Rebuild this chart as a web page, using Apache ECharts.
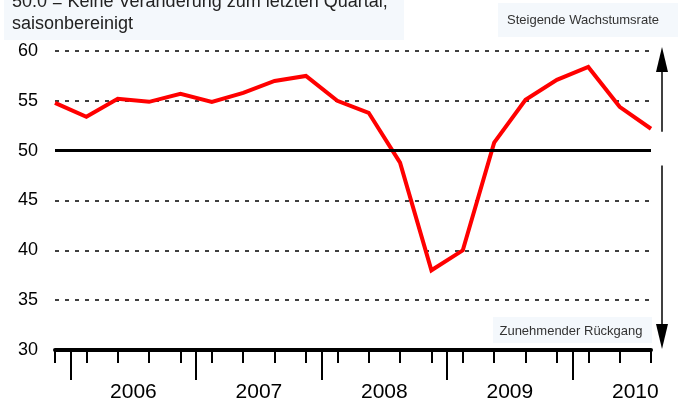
<!DOCTYPE html>
<html>
<head>
<meta charset="utf-8">
<script src="https://cdn.jsdelivr.net/npm/echarts@6/dist/echarts.min.js"></script>
<style>html,body{margin:0;padding:0;background:#fff}#c{width:678px;height:403px}</style>
</head>
<body>
<div id="c"></div>
<script>
// Quarterly PMI-style index, 2005 Q4 .. 2010 Q3
var quarters = ['2005 Q4','2006 Q1','2006 Q2','2006 Q3','2006 Q4','2007 Q1','2007 Q2','2007 Q3','2007 Q4','2008 Q1','2008 Q2','2008 Q3','2008 Q4','2009 Q1','2009 Q2','2009 Q3','2009 Q4','2010 Q1','2010 Q2','2010 Q3'];
var values = [54.8, 53.4, 55.2, 54.9, 55.7, 54.9, 55.8, 57.0, 57.5, 55.0, 53.8, 48.8, 38.0, 40.0, 50.8, 55.1, 57.1, 58.4, 54.4, 52.2];
var yearLabels = ['2006', '2007', '2008', '2009', '2010'];
var yearStartIndex = [1, 5, 9, 13, 17];           // first quarter of each year in `quarters`
var yTicks = [30, 35, 40, 45, 50, 55, 60];
var neutralValue = 50;
var titleLines = ['50.0 = Keine Veränderung zum letzten Quartal,', 'saisonbereinigt'];
var upLabel = 'Steigende Wachstumsrate';
var downLabel = 'Zunehmender Rückgang';

var FONT = '"Liberation Sans", Arial, Helvetica, sans-serif';
var seriesData = values.map(function (v, i) { return [i, v]; });
var boundaries = yearStartIndex.map(function (s) { return s - 0.5; });
var yearCenters = yearStartIndex.map(function (s) { return s + 1.5; });

var chart = echarts.init(document.getElementById('c'), null, { renderer: 'canvas' });
var option = {
  backgroundColor: '#ffffff',
  animation: false,
  grid: { left: 55, right: 27, top: 51, bottom: 50, containLabel: false },
  xAxis: [
    {
      type: 'value', min: 0, max: quarters.length - 1, interval: 1,
      axisLine: { show: true, onZero: false, lineStyle: { color: '#000', width: 4 } },
      axisTick: { show: true, length: 13, lineStyle: { color: '#000', width: 2 } },
      axisLabel: { show: false },
      splitLine: { show: false }
    },
    {
      type: 'value', min: 0, max: quarters.length - 1, position: 'bottom',
      axisLine: { show: false, onZero: false },
      axisTick: { show: true, length: 30, customValues: boundaries, lineStyle: { color: '#000', width: 2 } },
      axisLabel: {
        show: true, customValues: yearCenters, margin: 32,
        fontFamily: FONT, fontSize: 21, color: '#000',
        formatter: function (v) {
          var i = yearCenters.indexOf(v);
          return i >= 0 ? yearLabels[i] : '';
        }
      },
      splitLine: { show: false }
    }
  ],
  yAxis: {
    type: 'value', min: yTicks[0], max: yTicks[yTicks.length - 1], interval: 5,
    axisLine: { show: false },
    axisTick: { show: false },
    axisLabel: { fontFamily: FONT, fontSize: 18, color: '#000', margin: 17 },
    splitLine: { show: true, lineStyle: { color: '#000', width: 1.5, type: [4, 6] } }
  },
  series: [
    {
      type: 'line', xAxisIndex: 0, data: seriesData,
      symbol: 'none', smooth: false,
      lineStyle: { color: '#ff0000', width: 4, join: 'miter' },
      z: 3,
      markLine: {
        silent: true, symbol: ['none', 'none'], label: { show: false },
        lineStyle: { color: '#000', width: 3, type: 'solid' },
        data: [{ yAxis: neutralValue }],
        z: 4
      }
    }
  ]
};
chart.setOption(option);

function py(v) { return chart.convertToPixel({ yAxisIndex: 0 }, v); }
var ax = 662;
var yTop = py(60.4), yUpShaftEnd = py(51.9), yDownShaftStart = py(48.5), yBottom = py(30.1);
var head = 25, hw = 6;
chart.setOption({
  graphic: [
    { type: 'rect', shape: { x: 4, y: 0, width: 400, height: 40 }, style: { fill: '#f4f8fc' }, z: 0 },
    { type: 'text', x: 12, y: -7, style: { text: titleLines[0], font: '18px ' + FONT, fill: '#222', verticalAlign: 'top' }, z: 1 },
    { type: 'text', x: 12, y: 15, style: { text: titleLines[1], font: '18px ' + FONT, fill: '#222', verticalAlign: 'top' }, z: 1 },

    { type: 'rect', shape: { x: 498, y: 3, width: 180, height: 34 }, style: { fill: '#f4f8fc' }, z: 0 },
    { type: 'text', x: 583, y: 20, style: { text: upLabel, font: '13px ' + FONT, fill: '#333', align: 'center', verticalAlign: 'middle' }, z: 1 },
    { type: 'rect', shape: { x: 493, y: 317, width: 159, height: 26 }, style: { fill: '#f4f8fc' }, z: 0 },
    { type: 'text', x: 571, y: 331, style: { text: downLabel, font: '13px ' + FONT, fill: '#333', align: 'center', verticalAlign: 'middle' }, z: 1 },

    { type: 'line', shape: { x1: ax, y1: yTop + head - 2, x2: ax, y2: yUpShaftEnd }, style: { stroke: '#000', lineWidth: 1.5 }, z: 5 },
    { type: 'polygon', shape: { points: [[ax, yTop], [ax - hw, yTop + head], [ax + hw, yTop + head]] }, style: { fill: '#000' }, z: 5 },
    { type: 'line', shape: { x1: ax, y1: yDownShaftStart, x2: ax, y2: yBottom - head + 2 }, style: { stroke: '#000', lineWidth: 1.5 }, z: 5 },
    { type: 'polygon', shape: { points: [[ax, yBottom], [ax - hw, yBottom - head], [ax + hw, yBottom - head]] }, style: { fill: '#000' }, z: 5 }
  ]
});
</script>
</body>
</html>
